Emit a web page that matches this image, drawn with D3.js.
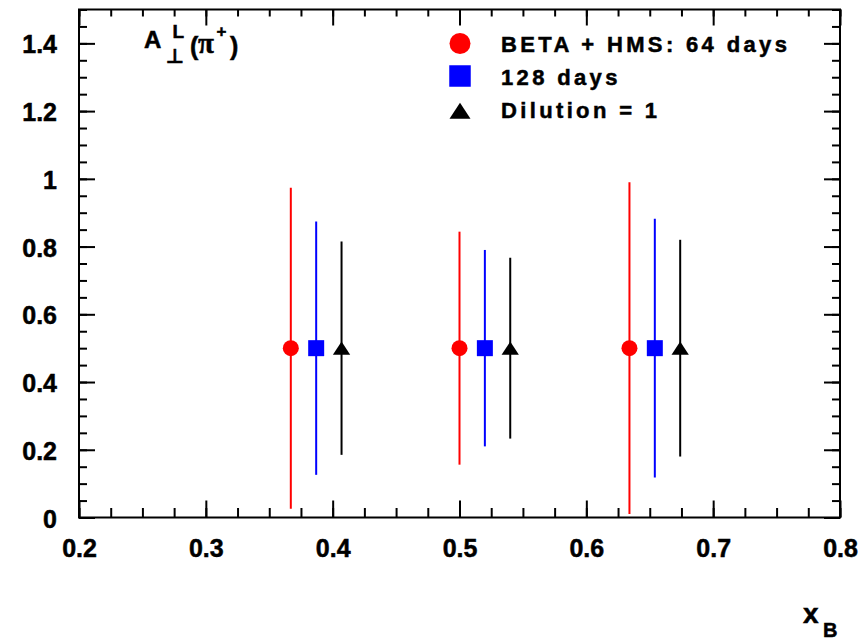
<!DOCTYPE html>
<html>
<head>
<meta charset="utf-8">
<script src="https://cdn.jsdelivr.net/npm/d3@7"></script>
<style>
  html, body { margin: 0; padding: 0; background: #fff; }
  svg { display: block; }
  text { font-family: "Liberation Sans", Arial, Helvetica, sans-serif; font-weight: bold; fill: #000;
         stroke: #000; stroke-width: 0.5px; }
</style>
</head>
<body>
<svg id="chart" width="867" height="641"></svg>
<script>
// Projected A_perp^L(pi+) asymmetry, three x_B bins, three running scenarios
const seriesNames = ["BETA + HMS: 64 days", "128 days", "Dilution = 1"];
const seriesColors = ["#ff0000", "#0000ff", "#000000"];
const seriesShapes = ["circle", "square", "triangle"];

const xRed   = [0.367, 0.500, 0.634];
const xBlue  = [0.387, 0.520, 0.654];
const xBlack = [0.407, 0.540, 0.674];

const yRed   = [0.5, 0.5, 0.5];
const yBlue  = [0.5, 0.5, 0.5];
const yBlack = [0.5, 0.5, 0.5];

const errRed   = [0.474, 0.344, 0.490];
const errBlue  = [0.374, 0.290, 0.382];
const errBlack = [0.315, 0.267, 0.320];

const xTicks = [0.2, 0.3, 0.4, 0.5, 0.6, 0.7, 0.8];
const yTicks = [0, 0.2, 0.4, 0.6, 0.8, 1.0, 1.2, 1.4];

const xDomain = [0.2, 0.8];
const yDomain = [0, 1.5];

const svg = d3.select("#chart");
const frame = { left: 79, right: 840, top: 9.5, bottom: 517.5 };

const x = d3.scaleLinear().domain(xDomain).range([frame.left, frame.right]);
const y = d3.scaleLinear().domain(yDomain).range([frame.bottom, frame.top]);

// minor tick values: x every 0.025, y every 0.05
const xMinor = d3.range(0, 25).map(i => xDomain[0] + i * 0.025).filter(v => v <= xDomain[1] + 1e-9);
const yMinor = d3.range(0, 31).map(i => i * 0.05).filter(v => v <= yDomain[1] + 1e-9);

const fmt = d3.format("~g");

function styleAxis(g) {
  g.select(".domain").remove();
  g.selectAll(".tick line").attr("stroke", "#000").attr("stroke-width", 2);
}

// bottom axis (ticks inside)
svg.append("g").attr("transform", `translate(0,${frame.bottom})`)
  .call(d3.axisBottom(x).tickValues(xMinor).tickSize(-9.5).tickFormat(""))
  .call(styleAxis);
const xAx = svg.append("g").attr("transform", `translate(0,${frame.bottom})`)
  .call(d3.axisBottom(x).tickValues(xTicks).tickSize(-17).tickFormat(fmt))
  .call(styleAxis);
xAx.selectAll(".tick text")
  .attr("y", 39.5).attr("dy", null)
  .style("font-size", "25px");

// top axis (mirror)
svg.append("g").attr("transform", `translate(0,${frame.top})`)
  .call(d3.axisTop(x).tickValues(xMinor).tickSize(-7).tickFormat(""))
  .call(styleAxis);
svg.append("g").attr("transform", `translate(0,${frame.top})`)
  .call(d3.axisTop(x).tickValues(xTicks).tickSize(-16).tickFormat(""))
  .call(styleAxis);

// left axis
svg.append("g").attr("transform", `translate(${frame.left},0)`)
  .call(d3.axisLeft(y).tickValues(yMinor).tickSize(-8).tickFormat(""))
  .call(styleAxis);
const yAx = svg.append("g").attr("transform", `translate(${frame.left},0)`)
  .call(d3.axisLeft(y).tickValues(yTicks).tickSize(-16).tickFormat(fmt))
  .call(styleAxis);
yAx.selectAll(".tick text")
  .attr("x", -22).attr("dy", null).attr("y", 9.5)
  .style("font-size", "25px");

// right axis (mirror)
svg.append("g").attr("transform", `translate(${frame.right},0)`)
  .call(d3.axisRight(y).tickValues(yMinor).tickSize(-8).tickFormat(""))
  .call(styleAxis);
svg.append("g").attr("transform", `translate(${frame.right},0)`)
  .call(d3.axisRight(y).tickValues(yTicks).tickSize(-16).tickFormat(""))
  .call(styleAxis);

// frame
svg.append("rect")
  .attr("x", frame.left).attr("y", frame.top)
  .attr("width", frame.right - frame.left).attr("height", frame.bottom - frame.top)
  .attr("fill", "none").attr("stroke", "#000").attr("stroke-width", 2);

// marker shapes
function markerPath(shape, size) {
  if (shape === "circle") {
    return d3.symbol(d3.symbolCircle, Math.PI * (size / 2) * (size / 2))();
  }
  if (shape === "square") {
    const h = size / 2;
    return `M${-h},${-h}H${h}V${h}H${-h}Z`;
  }
  // triangle, bounding box centred on the point
  const w = size * 1.05, hgt = size * 0.8;
  return `M0,${-hgt / 2}L${w / 2},${hgt / 2}L${-w / 2},${hgt / 2}Z`;
}

const series = [
  { xs: xRed, ys: yRed, errs: errRed },
  { xs: xBlue, ys: yBlue, errs: errBlue },
  { xs: xBlack, ys: yBlack, errs: errBlack }
].map((s, i) => ({
  name: seriesNames[i], color: seriesColors[i], shape: seriesShapes[i],
  points: s.xs.map((xv, j) => ({ x: xv, y: s.ys[j], e: s.errs[j] }))
}));

const dataSize = [16, 16, 16.5];

series.forEach((s, i) => {
  const g = svg.append("g");
  g.selectAll("line.err").data(s.points).join("line")
    .attr("class", "err")
    .attr("x1", d => x(d.x)).attr("x2", d => x(d.x))
    .attr("y1", d => y(d.y + d.e)).attr("y2", d => y(d.y - d.e))
    .attr("stroke", s.color).attr("stroke-width", 2);
  g.selectAll("path.mk").data(s.points).join("path")
    .attr("class", "mk")
    .attr("d", markerPath(s.shape, dataSize[i]))
    .attr("transform", d => `translate(${x(d.x)},${y(d.y)})`)
    .attr("fill", s.color);
});

// legend
const legend = svg.append("g").attr("transform", "translate(460,0)");
const legendRows = [43.5, 76, 110.8];
const legendBase = [51.7, 85, 118.3];
const legendSize = [21, 21.5, 20];
series.forEach((s, i) => {
  legend.append("path")
    .attr("d", markerPath(s.shape, legendSize[i]))
    .attr("transform", `translate(0,${legendRows[i]})`)
    .attr("fill", s.color);
  legend.append("text")
    .attr("x", 41).attr("y", legendBase[i])
    .style("font-size", "22px")
    .style("letter-spacing", "3.35px")
    .text(s.name);
});

// panel label  A_perp^L (pi+)
const title = svg.append("g");
title.append("text").attr("x", 144).attr("y", 48).style("font-size", "24px").text("A");
title.append("text").attr("x", 172.5).attr("y", 37.5).style("font-size", "19px").text("L");
title.append("text").attr("x", 165.5).attr("y", 62.5)
  .style("font-family", "'DejaVu Sans', sans-serif").style("font-size", "20px").text("⊥");
title.append("text").attr("x", 190).attr("y", 55).style("font-size", "25px").text("(");
title.append("text").attr("x", 198).attr("y", 53)
  .style("font-family", "'Liberation Serif', serif").style("font-size", "29px").text("π");
title.append("text").attr("x", 216.5).attr("y", 36.5).style("font-size", "17px").text("+");
title.append("text").attr("x", 230).attr("y", 55).style("font-size", "25px").text(")");

// x axis title  x_B
svg.append("text").attr("x", 803).attr("y", 623).style("font-size", "28px").text("x");
svg.append("text").attr("x", 823).attr("y", 636.5).style("font-size", "20px").text("B");
</script>
</body>
</html>
